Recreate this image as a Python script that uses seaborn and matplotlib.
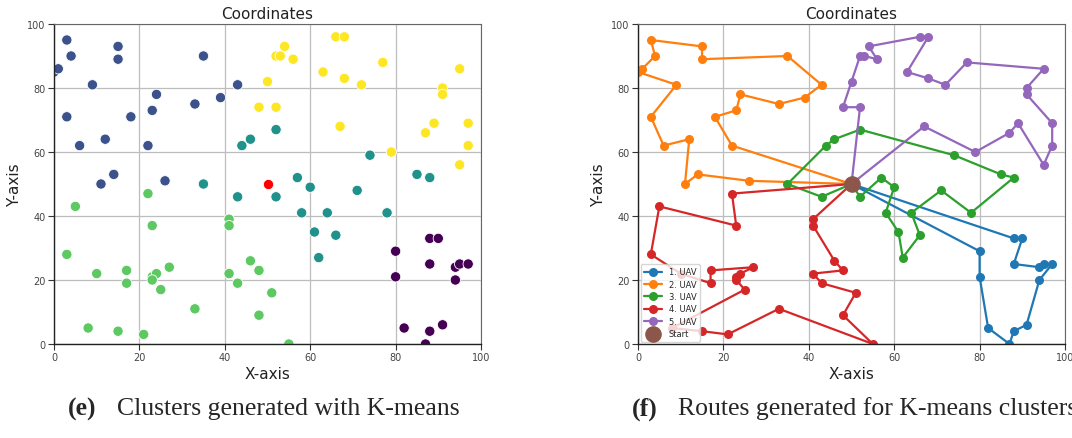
import numpy as np
import pandas as pd
import seaborn as sns
import matplotlib.pyplot as plt

# depot / start point
start_x, start_y = 50, 50

# K-means clusters (cluster id -> points)
c0_x = [80, 80, 88, 90, 88, 94, 95, 97, 94, 82, 88, 91, 87]
c0_y = [29, 21, 33, 33, 25, 24, 25, 25, 20, 5, 4, 6, 0]
c1_x = [0, 1, 3, 4, 9, 3, 6, 12, 11, 14, 15, 15, 18, 22, 23, 24, 26, 33, 35, 39, 43]
c1_y = [85, 86, 95, 90, 81, 71, 62, 64, 50, 53, 93, 89, 71, 62, 73, 78, 51, 75, 90, 77, 81]
c2_x = [44, 46, 35, 43, 52, 57, 60, 52, 71, 74, 85, 88, 58, 64, 78, 61, 66, 62]
c2_y = [62, 64, 50, 46, 67, 52, 49, 46, 48, 59, 53, 52, 41, 41, 41, 35, 34, 27]
c3_x = [22, 5, 23, 3, 10, 17, 17, 23, 24, 23, 27, 25, 33, 8, 15, 21, 41, 41, 41, 43, 46, 48, 48, 51, 55]
c3_y = [47, 43, 37, 28, 22, 23, 19, 21, 22, 20, 24, 17, 11, 5, 4, 3, 39, 37, 22, 19, 26, 23, 9, 16, 0]
c4_x = [54, 52, 53, 56, 50, 48, 52, 66, 68, 63, 68, 72, 77, 67, 79, 95, 91, 91, 89, 87, 97, 97, 95]
c4_y = [93, 90, 90, 89, 82, 74, 74, 96, 96, 85, 83, 81, 88, 68, 60, 86, 80, 78, 69, 66, 69, 62, 56]

# routes (visiting order, start and end at depot)
r1_x = [50, 88, 90, 88, 94, 95, 97, 94, 91, 88, 87, 82, 80, 80, 50]
r1_y = [50, 33, 33, 25, 24, 25, 25, 20, 6, 4, 0, 5, 21, 29, 50]
r2_x = [50, 26, 14, 11, 12, 6, 3, 9, 0, 1, 4, 3, 15, 15, 35, 43, 39, 33, 24, 23, 18, 22, 50]
r2_y = [50, 51, 53, 50, 64, 62, 71, 81, 85, 86, 90, 95, 93, 89, 90, 81, 77, 75, 78, 73, 71, 62, 50]
r3_x = [50, 43, 35, 44, 46, 52, 74, 85, 88, 78, 71, 64, 66, 62, 61, 58, 60, 57, 52, 50]
r3_y = [50, 46, 50, 62, 64, 67, 59, 53, 52, 41, 48, 41, 34, 27, 35, 41, 49, 52, 46, 50]
r4_x = [50, 22, 23, 5, 3, 10, 17, 17, 27, 24, 23, 23, 25, 8, 15, 21, 33, 55, 48, 51, 43, 41, 48, 46, 41, 41, 50]
r4_y = [50, 47, 37, 43, 28, 22, 19, 23, 24, 22, 21, 20, 17, 5, 4, 3, 11, 0, 9, 16, 19, 22, 23, 26, 37, 39, 50]
r5_x = [50, 52, 48, 50, 52, 53, 56, 54, 66, 68, 63, 68, 72, 77, 95, 91, 91, 97, 97, 95, 89, 87, 79, 67, 50]
r5_y = [50, 74, 74, 82, 90, 90, 89, 93, 96, 96, 85, 83, 81, 88, 86, 80, 78, 69, 62, 56, 69, 66, 60, 68, 50]

route_labels = ["1. UAV", "2. UAV", "3. UAV", "4. UAV", "5. UAV"]

clusters = [(c0_x, c0_y), (c1_x, c1_y), (c2_x, c2_y), (c3_x, c3_y), (c4_x, c4_y)]
pts = pd.DataFrame({
    "x": sum([c[0] for c in clusters], []),
    "y": sum([c[1] for c in clusters], []),
    "cluster": sum([[i] * len(c[0]) for i, c in enumerate(clusters)], []),
})
routes = [(r1_x, r1_y), (r2_x, r2_y), (r3_x, r3_y), (r4_x, r4_y), (r5_x, r5_y)]

sns.set_style("whitegrid")
plt.rcParams['font.family'] = ['DejaVu Sans']

fig = plt.figure(figsize=(10.72, 4.39), dpi=100)
ax1 = fig.add_axes([54 / 1072, 1 - 345 / 439, 427 / 1072, 320 / 439])
ax2 = fig.add_axes([638 / 1072, 1 - 345 / 439, 427 / 1072, 320 / 439])

# --- clusters ---
sns.scatterplot(data=pts, x="x", y="y", hue="cluster", palette="viridis",
                s=55, edgecolor="white", linewidth=0.6, legend=False, ax=ax1)
ax1.scatter([start_x], [start_y], color="red", s=55, edgecolor="white", linewidth=0.6, zorder=3)

# --- routes ---
pal = sns.color_palette("tab10")
for i, (rx, ry) in enumerate(routes):
    sns.lineplot(x=rx, y=ry, sort=False, estimator=None, marker="o", markersize=6.5,
                 markeredgewidth=0, color=pal[i], linewidth=1.6, label=route_labels[i], ax=ax2)
ax2.scatter([start_x], [start_y], color=pal[5], s=120, zorder=5, label="Start")
ax2.legend(loc="lower left", fontsize=6, frameon=True, borderpad=0.4,
           labelspacing=0.4, handlelength=2.2, borderaxespad=0.3)

for ax in (ax1, ax2):
    ax.set_xlim(0, 100)
    ax.set_ylim(0, 100)
    ax.set_xticks([0, 20, 40, 60, 80, 100])
    ax.set_yticks([0, 20, 40, 60, 80, 100])
    ax.tick_params(axis="both", labelsize=7, length=4, width=0.8, color="#333333",
                   labelcolor="#444444", bottom=True, left=True, pad=2)
    ax.grid(True, color="#bdbdbd", linewidth=0.9)
    ax.set_title("Coordinates", fontsize=11, color="#222222", pad=4)
    ax.set_xlabel("X-axis", fontsize=11, color="#222222", labelpad=3)
    ax.set_ylabel("Y-axis", fontsize=11, color="#222222", labelpad=4)
    for s in ("left", "bottom"):
        ax.spines[s].set_color("#222222")
        ax.spines[s].set_linewidth(1.0)
    for s in ("top", "right"):
        ax.spines[s].set_color("#666666")
        ax.spines[s].set_linewidth(0.8)

# figure captions
cap_y = 1 - 409 / 439
fig.text(68 / 1072, cap_y, "(e)", fontsize=18.5, fontweight="bold",
         family="Liberation Serif", va="center", ha="left")
fig.text(117 / 1072, cap_y, "Clusters generated with K-means", fontsize=18.5,
         family="Liberation Serif", va="center", ha="left")
fig.text(632 / 1072, cap_y, "(f)", fontsize=18.5, fontweight="bold",
         family="Liberation Serif", va="center", ha="left")
fig.text(678 / 1072, cap_y, "Routes generated for K-means clusters", fontsize=18.5,
         family="Liberation Serif", va="center", ha="left")

fig.savefig("out.png", dpi=100)
